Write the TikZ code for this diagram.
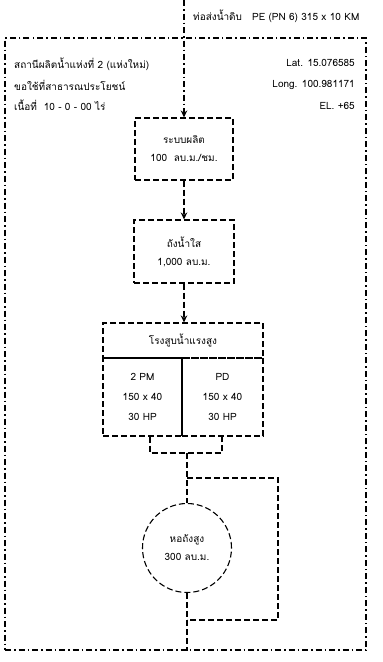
\documentclass[tikz,border=0pt]{standalone}
\usepackage{fontspec}
\newfontfamily\thaifont[Script=Thai]{Loma}
\usetikzlibrary{arrows.meta}
\begin{document}
\begin{tikzpicture}[x=1pt,y=-1pt,
  font=\thaifont\fontsize{10}{12}\selectfont,
  pipe/.style={line width=1.1pt, dash pattern=on 6pt off 3pt on 1.5pt off 3pt},
  boxline/.style={line width=1.1pt, dash pattern=on 6pt off 3pt},
  arr/.style={-{Stealth[length=7pt,width=6.5pt]}},
  unit/.style={draw, boxline, rectangle, align=center, inner sep=0pt},
  lbl/.style={inner sep=0pt}
]
\useasboundingbox (0,0) rectangle (383,662);
% outer site boundary
\node[draw, pipe, rectangle, minimum width=361pt, minimum height=612pt, inner sep=0pt] (site) at (185.5,344) {};
% top pipe label
\coordinate (top) at (184,0);
\node[lbl, anchor=west] (pipelbl) at (193,16) {ท่อส่งน้ำดิบ\quad PE (PN 6) 315 x 10 KM};
% site texts
\node[lbl, anchor=west] (t1) at (14,64) {สถานีผลิตน้ำแห่งที่ 2 (แห่งใหม่)};
\node[lbl, anchor=west] (t2) at (14,85) {ขอใช้ที่สาธารณประโยชน์};
\node[lbl, anchor=west] (t3) at (14,105) {เนื้อที่\ \ 10 - 0 - 00 ไร่};
\node[lbl, anchor=east] (lat) at (355,63) {Lat. 15.076585};
\node[lbl, anchor=east] (lon) at (355,85) {Long. 100.981171};
\node[lbl, anchor=east] (el) at (355,106) {EL. +65};
% units
\node[unit, minimum width=98pt, minimum height=62pt] (prod) at (184,149) {ระบบผลิต\\[6pt]100\ \ ลบ.ม./ชม.};
\node[unit, minimum width=100pt, minimum height=63pt] (clear) at (184,251.5) {ถังน้ำใส\\[6pt]1,000 ลบ.ม.};
\node[unit, minimum width=160pt, minimum height=35pt] (hdr) at (183,340.5) {โรงสูบน้ำแรงสูง};
\node[unit, minimum width=79pt, minimum height=78pt] (pm) at (142.5,397) {2 PM\\[8pt]150 x 40\\[8pt]30 HP};
\node[unit, minimum width=81pt, minimum height=78pt] (pd) at (222.5,397) {PD\\[8pt]150 x 40\\[8pt]30 HP};
\node[draw, boxline, circle, minimum size=89pt, inner sep=0pt, align=center] (tank) at (187,548) {หอถังสูง\\[6pt]300 ลบ.ม.};
% pipe connectors
\draw[pipe, arr] (top) -- (prod.north);
\draw[boxline, arr] (prod.south) -- (clear.north);
\draw[boxline, arr] (clear.south) -- (clear.south |- hdr.north);
% manifold
\coordinate (m1) at (150,453);
\coordinate (m2) at (222,453);
\coordinate (mj) at (187,453);
\coordinate (bj) at (187,478);
\coordinate (b1) at (278,478);
\coordinate (b2) at (278,620);
\coordinate (b3) at (187,620);
\draw[boxline] (m1 |- pm.south) -- (m1) -- (m2) -- (m2 |- pd.south);
\draw[boxline] (mj) -- (bj) -- (tank.north);
\draw[boxline] (bj) -- (b1) -- (b2) -- (b3);
\draw[boxline] (tank.south) -- (tank.south |- site.south);
\end{tikzpicture}
\end{document}
